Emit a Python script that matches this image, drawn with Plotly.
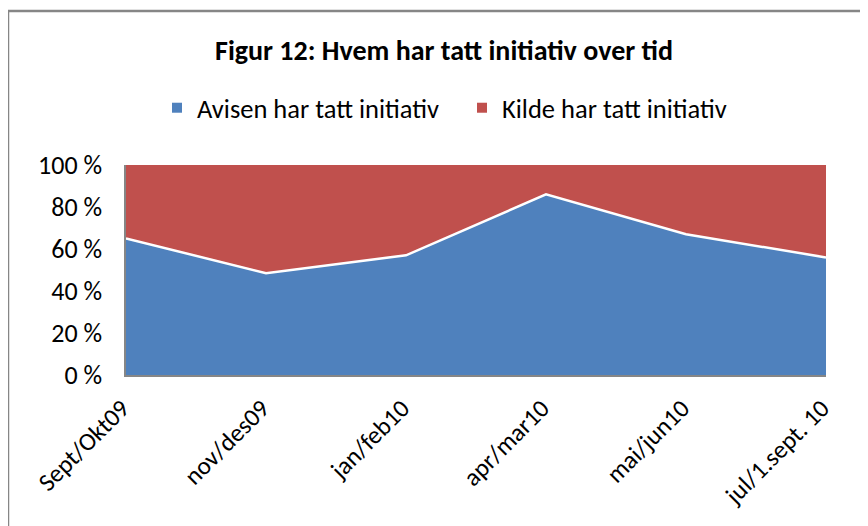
import plotly.graph_objects as go

categories = ["Sept/Okt09", "nov/des09", "jan/feb10", "apr/mar10", "mai/jun10", "jul/1.sept. 10"]
avisen = [65, 48.5, 57, 86, 67, 56]
kilde = [100 - v for v in avisen]
y_ticks = [0, 20, 40, 60, 80, 100]
y_ticktext = ["0 %", "20 %", "40 %", "60 %", "80 %", "100 %"]

BLUE = "#4F81BD"
RED = "#C0504D"
FONT = "Carlito, 'Open Sans', sans-serif"

# page body has an 8px margin: figure occupies page x 8..868, y 8..526
W, H = 860, 518
OFF = 8
L, R, T, B = 126 - OFF, W - (826 - OFF), 165 - OFF, H - (375 - OFF)
PW, PH = W - L - R, H - T - B

fig = go.Figure()
fig.add_trace(go.Scatter(x=categories, y=avisen, stackgroup="s", mode="lines",
                         line=dict(color="white", width=2.5), fillcolor=BLUE,
                         showlegend=False, hoverinfo="skip"))
fig.add_trace(go.Scatter(x=categories, y=kilde, stackgroup="s", mode="lines",
                         line=dict(color=RED, width=0), fillcolor=RED,
                         showlegend=False, hoverinfo="skip"))
# legend entries
fig.add_trace(go.Scatter(x=[None], y=[None], mode="markers", name="Avisen har tatt initiativ",
                         marker=dict(symbol="square", size=10, color=BLUE)))
fig.add_trace(go.Scatter(x=[None], y=[None], mode="markers", name="Kilde har tatt initiativ",
                         marker=dict(symbol="square", size=10, color=RED)))

def px_x(page_x):
    return (page_x - OFF - L) / PW

def px_y(page_y):
    return (H - B - (page_y - OFF)) / PH

fig.update_layout(
    width=W, height=H,
    margin=dict(l=L, r=R, t=T, b=B),
    paper_bgcolor="white", plot_bgcolor="white",
    font=dict(family=FONT, size=25, color="#000000"),
    title=dict(text="<b>Figur 12: Hvem har tatt initiativ over tid</b>",
               x=(444 - OFF) / W, xanchor="center", xref="container",
               y=1 - (50 - OFF) / H, yanchor="middle", yref="container",
               font=dict(family=FONT, size=28, color="#000000")),
    legend=dict(orientation="h", xref="container", yref="container", traceorder="normal",
                x=(157 - OFF) / W, xanchor="left", y=1 - (108 - OFF) / H, yanchor="middle",
                font=dict(family=FONT, size=26.5, color="#000000"),
                entrywidth=260, entrywidthmode="pixels",
                bgcolor="rgba(0,0,0,0)"),
    xaxis=dict(type="category", range=[0, 5], showgrid=False, zeroline=False,
               showline=True, linecolor="#868686", linewidth=1.5,
               tickangle=-45, ticks="", ticklabelstandoff=7, ticklabelshift=-4,
               tickfont=dict(family=FONT, size=25)),
    yaxis=dict(range=[0, 100], tickvals=y_ticks, ticktext=y_ticktext,
               showgrid=False, zeroline=False, showline=True,
               linecolor="#868686", linewidth=1.5, ticks="", ticklabelstandoff=17,
               tickfont=dict(family=FONT, size=26)),
    shapes=[
        dict(type="line", xref="paper", yref="paper",
             x0=px_x(8), x1=px_x(880), y0=px_y(11), y1=px_y(11),
             line=dict(color="#868686", width=2.5)),
        dict(type="line", xref="paper", yref="paper",
             x0=px_x(8), x1=px_x(8), y0=px_y(11), y1=px_y(540),
             line=dict(color="#868686", width=2.5)),
    ],
)

fig.write_html("out.html")
